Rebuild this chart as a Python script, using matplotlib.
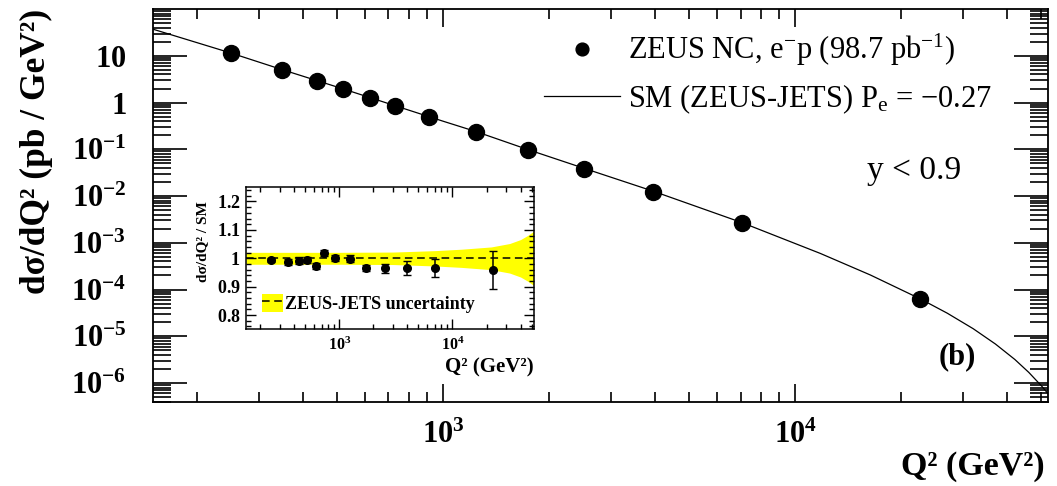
import numpy as np
import matplotlib
matplotlib.use("Agg")
import matplotlib.pyplot as plt
from matplotlib.ticker import LogLocator, FixedLocator, NullFormatter, FuncFormatter, MultipleLocator
from matplotlib.patches import Patch
from matplotlib.lines import Line2D

plt.rcParams['font.family'] = ['Liberation Serif', 'DejaVu Serif']
plt.rcParams['mathtext.fontset'] = 'custom'
plt.rcParams['mathtext.rm'] = 'Liberation Serif'
plt.rcParams['mathtext.it'] = 'Liberation Serif:italic'
plt.rcParams['mathtext.bf'] = 'Liberation Serif:bold'
plt.rcParams['mathtext.default'] = 'rm'

# ZEUS NC e-p cross section, y < 0.9
q2 = [250, 350, 440, 520, 620, 730, 910, 1240, 1740, 2520, 3940, 7060, 22650]
dsigma = [11.4, 5.01, 2.96, 1.96, 1.24, 0.85, 0.50, 0.239, 0.097, 0.038, 0.0124, 0.00269, 6.25e-5]

# SM expectation (ZEUS-JETS), Pe = -0.27
q2_sm = [150, 250, 350, 520, 730, 1000, 1240, 1740, 2520, 3940, 7060, 11780,
         16330, 22650, 27000, 32000, 37000, 42000, 46000, 50000, 52000]
dsigma_sm = [37.3, 11.5, 5.05, 1.97, 0.86, 0.40, 0.24, 0.099, 0.039, 0.0128, 0.0027,
             5.92e-4, 2.05e-4, 6.3e-5, 3.12e-5, 1.45e-5, 6.82e-6, 3.19e-6, 1.69e-6, 8.66e-7, 6.1e-7]

# data / SM
ratio = [0.994, 0.987, 0.992, 0.994, 0.973, 1.018, 1.000, 0.999, 0.966, 0.965, 0.965, 0.965, 0.959]
ratio_err = [0.008, 0.009, 0.012, 0.010, 0.010, 0.010, 0.010, 0.011, 0.012, 0.015, 0.024, 0.032, 0.068]

# ZEUS-JETS PDF uncertainty (half width of the band)
q2_band = [150, 1000, 3000, 7000, 12000, 22000, 32000, 40000, 46000, 52000]
band_half = [0.021, 0.021, 0.022, 0.027, 0.032, 0.040, 0.052, 0.066, 0.080, 0.095]

W, H = 1057, 486
fig = plt.figure(figsize=(W / 100, H / 100), dpi=100)
ax = fig.add_axes([152.7 / W, 1 - 401.7 / H, (1047.5 - 152.7) / W, (401.7 - 9.3) / H])

line_sm, = ax.plot(q2_sm, dsigma_sm, color='black', lw=0.9)
pts, = ax.plot(q2, dsigma, 'o', color='black', ms=11.5, ls='none')

ax.set_xscale('log')
ax.set_yscale('log')
ax.set_xlim(150, 52000)
ax.set_ylim(3.98e-7, 99)

def ylabel_fmt(v, pos):
    e = int(round(np.log10(v)))
    if e == 1:
        return r'$\mathbf{10}$'
    if e == 0:
        return r'$\mathbf{1}$'
    return r'$\mathbf{10^{%d}}$' % e

def xlabel_fmt(v, pos):
    e = int(round(np.log10(v)))
    return r'$\mathbf{10^{%d}}$' % e

ax.yaxis.set_major_locator(FixedLocator([10.0 ** e for e in range(-6, 2)]))
ax.yaxis.set_minor_locator(LogLocator(base=10, subs=np.arange(2, 10), numticks=100))
ax.yaxis.set_major_formatter(FuncFormatter(ylabel_fmt))
ax.yaxis.set_minor_formatter(NullFormatter())
ax.xaxis.set_major_locator(FixedLocator([1e3, 1e4]))
ax.xaxis.set_minor_locator(LogLocator(base=10, subs=np.arange(2, 10), numticks=100))
ax.xaxis.set_major_formatter(FuncFormatter(xlabel_fmt))
ax.xaxis.set_minor_formatter(NullFormatter())

for s in ax.spines.values():
    s.set_linewidth(1.3)
ax.tick_params(which='both', direction='in', top=True, right=True, width=1.2, labelsize=22)
ax.tick_params(axis='y', which='major', length=24.5, pad=19)
ax.tick_params(axis='y', which='minor', length=13)
ax.tick_params(axis='x', which='major', length=13, pad=14)
ax.tick_params(axis='x', which='minor', length=7)

fig.text(36 / W, 1 - 151 / H, 'dσ/dQ² (pb / GeV²)', rotation=90, ha='center', va='center',
         fontsize=25.5, fontweight='bold')
fig.text(1045 / W, 1 - 466 / H, 'Q² (GeV²)', ha='right', va='center', fontsize=24.5, fontweight='bold')

leg = ax.legend([pts, line_sm],
                [r'ZEUS NC, e$^{-}$p (98.7 pb$^{-1}$)', r'SM (ZEUS-JETS) P$_{\mathrm{e}}$ = $-$0.27'],
                loc='upper left', bbox_to_anchor=(544 / W, 1 - 32 / H), bbox_transform=fig.transFigure,
                frameon=False, fontsize=22, handlelength=2.5, handletextpad=0.25, markerscale=0.8,
                labelspacing=0.45, borderpad=0, borderaxespad=0)

fig.text(914 / W, 1 - 171 / H, 'y < 0.9', ha='center', va='center', fontsize=24)
fig.text(957 / W, 1 - 357 / H, '(b)', ha='center', va='center', fontsize=22, fontweight='bold')

# inset: ratio to the SM
ax_in = fig.add_axes([246 / W, 1 - 329.3 / H, (533.5 - 246) / W, (329.3 - 187.3) / H])
ax_in.set_xscale('log')
ax_in.set_xlim(150, 52000)
ax_in.set_ylim(0.75, 1.25)

q2b = np.array(q2_band)
hb = np.array(band_half)
ax_in.fill_between(q2b, 1 - hb, 1 + hb, color='#ffff00', lw=0)
ax_in.axhline(1.0, color='black', lw=1.1, ls=(0, (5, 3)))
ax_in.errorbar(q2, ratio, yerr=ratio_err, fmt='o', color='black', ms=5.5, capsize=3, elinewidth=1.1)

ax_in.xaxis.set_major_locator(FixedLocator([1e3, 1e4]))
ax_in.xaxis.set_minor_locator(LogLocator(base=10, subs=np.arange(2, 10), numticks=100))
ax_in.xaxis.set_major_formatter(FuncFormatter(xlabel_fmt))
ax_in.xaxis.set_minor_formatter(NullFormatter())
ax_in.yaxis.set_major_locator(MultipleLocator(0.1))
ax_in.yaxis.set_minor_locator(MultipleLocator(0.02))
ax_in.yaxis.set_major_formatter(FuncFormatter(lambda v, p: r'$\mathbf{%g}$' % round(v, 2)))
for s in ax_in.spines.values():
    s.set_linewidth(1.1)
ax_in.tick_params(which='both', direction='in', top=True, right=True, width=1.0)
ax_in.tick_params(which='major', length=7)
ax_in.tick_params(which='minor', length=3.5)
ax_in.tick_params(axis='y', labelsize=13, pad=4)
ax_in.tick_params(axis='x', labelsize=11.5, pad=5)

ax_in.text(-0.15, 0.62, 'dσ/dQ² / SM', rotation=90, ha='center', va='center', fontsize=11,
           fontweight='bold', transform=ax_in.transAxes)
ax_in.text(1.0, -0.27, 'Q² (GeV²)', ha='right', va='center', fontsize=15,
           fontweight='bold', transform=ax_in.transAxes)

band_handle = (Patch(facecolor='#ffff00', lw=0), Line2D([], [], color='black', lw=1.1, ls=(0, (5, 3))))
leg_in = ax_in.legend([band_handle], ['ZEUS-JETS uncertainty'], loc='center left',
                      bbox_to_anchor=(0.055, 0.183), frameon=False, handlelength=1.2,
                      handleheight=1.2, handletextpad=0.1, borderpad=0, borderaxespad=0,
                      prop={'size': 13, 'weight': 'bold'})

fig.savefig('out.png', dpi=100)
